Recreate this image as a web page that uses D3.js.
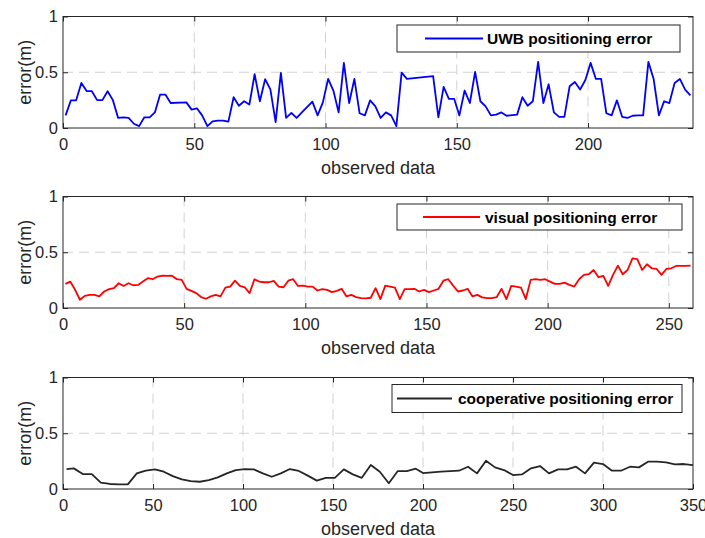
<!DOCTYPE html>
<html>
<head>
<meta charset="utf-8">
<script src="https://cdn.jsdelivr.net/npm/d3@7"></script>
<style>
  body { margin: 0; background: #fff; }
  text { font-family: Arial, "Liberation Sans", Helvetica, sans-serif; }
</style>
</head>
<body>
<svg id="chart" width="705" height="538"></svg>
<script>
// ---- data ----
var uwbX = [1,3,5,7,9,11,13,15,17,19, 21,23,25,27,29,31,33,35,37,39,
            41,47,49,51,53,55,57,59,61,63, 65,67,69,71,73,75,77,79,81,83,
            85,87,89,91,95,97,99,101,103,105, 107,109,111,113,115,117,119,121,123,125,
            127,129,131,141,143,145,147,149,151,153, 155,157,159,161,163,165,167,169,173,175,
            177,179,181,183,185,187,189,191,193,195, 197,199,201,203,205,207,209,211,213,215,
            217,219,221,223,225,227,229,231,233,235, 237,239];
var uwbY = [0.113,0.248,0.248,0.404,0.332,0.33,0.25,0.25,0.33,0.25, 0.09,0.096,0.09,0.038,0.017,0.096,0.096,0.14,0.3,0.3,
            0.224,0.23,0.165,0.177,0.113,0.017,0.06,0.066,0.066,0.057, 0.276,0.2,0.24,0.21,0.482,0.24,0.437,0.347,0.053,0.494,
            0.09,0.135,0.09,0.14,0.236,0.113,0.23,0.44,0.336,0.14, 0.584,0.224,0.44,0.132,0.113,0.248,0.194,0.09,0.14,0.113,
            0.017,0.497,0.44,0.465,0.096,0.368,0.262,0.262,0.113,0.336, 0.224,0.503,0.24,0.194,0.113,0.12,0.14,0.11,0.12,0.276,
            0.2,0.24,0.593,0.224,0.392,0.14,0.1,0.1,0.374,0.413, 0.345,0.43,0.584,0.44,0.44,0.132,0.113,0.248,0.1,0.09,
            0.11,0.113,0.113,0.593,0.44,0.113,0.24,0.224,0.404,0.44, 0.345,0.293];

var visX = [1,3,5,7,9,11,13,15,17,19, 21,23,25,27,29,31,33,35,37,39,
            41,43,45,47,49,51,53,55,57,59, 61,63,65,67,69,71,73,75,77,79,
            81,83,85,87,89,91,93,95,97,99, 101,103,105,107,109,111,113,115,117,119,
            121,123,125,127,129,131,133,135,137,139, 141,143,145,147,149,151,153,155,157,159,
            161,163,165,167,169,171,173,175,177,179, 181,183,185,187,189,191,193,195,197,199,
            201,203,205,207,209,211,213,215,217,219, 221,223,225,227,229,231,233,235,237,239,
            241,243,245,247,249,251,253,255,257,259];
var visY = [0.216,0.237,0.163,0.074,0.109,0.118,0.118,0.104,0.148,0.169, 0.178,0.222,0.198,0.222,0.204,0.207,0.237,0.267,0.258,0.282,
            0.29,0.288,0.29,0.258,0.252,0.172,0.154,0.133,0.098,0.083, 0.104,0.118,0.104,0.183,0.192,0.245,0.198,0.186,0.133,0.258,
            0.237,0.231,0.231,0.243,0.192,0.186,0.245,0.258,0.198,0.201, 0.192,0.192,0.157,0.169,0.163,0.142,0.154,0.172,0.104,0.118,
            0.098,0.089,0.086,0.092,0.178,0.08,0.201,0.192,0.183,0.08, 0.169,0.169,0.172,0.148,0.163,0.142,0.157,0.172,0.245,0.258,
            0.201,0.148,0.157,0.172,0.104,0.118,0.095,0.089,0.089,0.098, 0.172,0.08,0.198,0.192,0.183,0.08,0.252,0.258,0.252,0.258,
            0.237,0.216,0.216,0.228,0.207,0.192,0.258,0.297,0.303,0.341, 0.276,0.288,0.198,0.297,0.38,0.303,0.341,0.445,0.439,0.341,
            0.392,0.356,0.35,0.297,0.35,0.356,0.377,0.377,0.377,0.38];

var coopX = [2,6,11,16,21,26,31,36,41,46, 51,56,61,66,71,76,81,86,91,96,
             101,106,111,116,121,126,131,136,141,146, 151,156,161,166,171,176,181,186,191,196,
             200,205,210,215,220,225,230,235,240,245, 250,255,260,265,270,275,280,285,290,295,
             300,305,310,315,320,325,330,335,340,345, 350];
var coopY = [0.179,0.185,0.134,0.134,0.057,0.045,0.042,0.042,0.14,0.164, 0.176,0.155,0.116,0.086,0.071,0.065,0.08,0.104,0.14,0.17,
             0.178,0.176,0.14,0.11,0.14,0.179,0.162,0.12,0.075,0.1, 0.1,0.176,0.131,0.1,0.215,0.155,0.051,0.161,0.161,0.182,
             0.143,0.149,0.155,0.161,0.164,0.2,0.14,0.254,0.194,0.17, 0.125,0.131,0.185,0.206,0.14,0.176,0.176,0.2,0.14,0.236,
             0.224,0.164,0.164,0.2,0.194,0.245,0.245,0.239,0.221,0.224, 0.215];

var yTicks = [0, 0.5, 1];
var uwbTicks = [0, 50, 100, 150, 200];
var visTicks = [0, 50, 100, 150, 200, 250];
var coopTicks = [0, 50, 100, 150, 200, 250, 300, 350];
var legendNames = ["UWB positioning error", "visual positioning error", "cooperative positioning error"];
var xTitle = "observed data", yTitle = "error(m)";

// ---- layout ----
var left = 63, width = 630, height = 111.5;
var axisColor = "#262626", gridColor = "#d2d2d2";

var panels = [
  {xs: uwbX, ys: uwbY, xMax: 240, ticks: uwbTicks, color: "#0000ff", name: legendNames[0],
   top: 16.5, box: [397, 25, 283, 27], sample: [425, 483], textX: 487},
  {xs: visX, ys: visY, xMax: 260, ticks: visTicks, color: "#ff0000", name: legendNames[1],
   top: 196.5, box: [397, 204, 285, 26], sample: [423, 480], textX: 485},
  {xs: coopX, ys: coopY, xMax: 350, ticks: coopTicks, color: "#262626", name: legendNames[2],
   top: 377.5, box: [392, 384.5, 290, 28], sample: [397, 452], textX: 458}
];

var svg = d3.select("#chart");
svg.append("rect").attr("width", 705).attr("height", 538).attr("fill", "#fff");

panels.forEach(function(p) {
  var x = d3.scaleLinear().domain([0, p.xMax]).range([0, width]);
  var y = d3.scaleLinear().domain([0, 1]).range([height, 0]);

  var g = svg.append("g").attr("transform", "translate(" + left + "," + p.top + ")");

  // dashed grid
  g.selectAll(".vgrid").data(p.ticks.filter(function(t){ return t > 0 && t < p.xMax; }))
    .enter().append("line")
    .attr("x1", function(d){ return x(d); }).attr("x2", function(d){ return x(d); })
    .attr("y1", 0).attr("y2", height)
    .attr("stroke", gridColor).attr("stroke-width", 1).attr("stroke-dasharray", "10,6");
  g.append("line")
    .attr("x1", 0).attr("x2", width).attr("y1", y(0.5)).attr("y2", y(0.5))
    .attr("stroke", gridColor).attr("stroke-width", 1).attr("stroke-dasharray", "10,6");

  // data line
  var line = d3.line()
    .x(function(d){ return x(d[0]); })
    .y(function(d){ return y(d[1]); });
  g.append("path")
    .datum(d3.zip(p.xs, p.ys))
    .attr("d", line)
    .attr("fill", "none")
    .attr("stroke", p.color)
    .attr("stroke-width", 1.8)
    .attr("stroke-linejoin", "round");

  // axes, ticks pointing inward
  var fmt = function(d){ return String(d); };
  var xb = g.append("g").attr("transform", "translate(0," + height + ")")
    .call(d3.axisBottom(x).tickValues(p.ticks).tickSizeInner(-5).tickSizeOuter(0).tickPadding(10.5).tickFormat(fmt));
  var xt = g.append("g")
    .call(d3.axisTop(x).tickValues(p.ticks).tickSizeInner(-5).tickSizeOuter(0).tickFormat(""));
  var yl = g.append("g")
    .call(d3.axisLeft(y).tickValues(yTicks).tickSizeInner(-5).tickSizeOuter(0).tickPadding(5).tickFormat(fmt));
  var yr = g.append("g").attr("transform", "translate(" + width + ",0)")
    .call(d3.axisRight(y).tickValues(yTicks).tickSizeInner(-5).tickSizeOuter(0).tickFormat(""));
  [xb, xt, yl, yr].forEach(function(a) {
    a.attr("color", axisColor).attr("font-size", 16.5).attr("font-family", null);
    a.select(".domain").remove();
  });

  // box
  g.append("rect").attr("width", width).attr("height", height)
    .attr("fill", "none").attr("stroke", axisColor).attr("stroke-width", 1);

  // axis titles
  g.append("text")
    .attr("x", width / 2).attr("y", height + 46)
    .attr("text-anchor", "middle").attr("font-size", 18).attr("fill", axisColor)
    .text(xTitle);
  g.append("text")
    .attr("transform", "translate(" + (31 - left) + "," + (height / 2) + ") rotate(-90)")
    .attr("text-anchor", "middle").attr("font-size", 18).attr("fill", axisColor)
    .text(yTitle);

  // legend
  var b = p.box, cy = b[1] + b[3] / 2;
  svg.append("rect").attr("x", b[0]).attr("y", b[1]).attr("width", b[2]).attr("height", b[3])
    .attr("fill", "#fff").attr("stroke", axisColor).attr("stroke-width", 1);
  svg.append("line").attr("x1", p.sample[0]).attr("x2", p.sample[1]).attr("y1", cy).attr("y2", cy)
    .attr("stroke", p.color).attr("stroke-width", 1.8);
  svg.append("text").attr("x", p.textX).attr("y", cy + 5.5)
    .attr("font-size", 15.5).attr("font-weight", "bold").attr("fill", "#000")
    .text(p.name);
});
</script>
</body>
</html>
